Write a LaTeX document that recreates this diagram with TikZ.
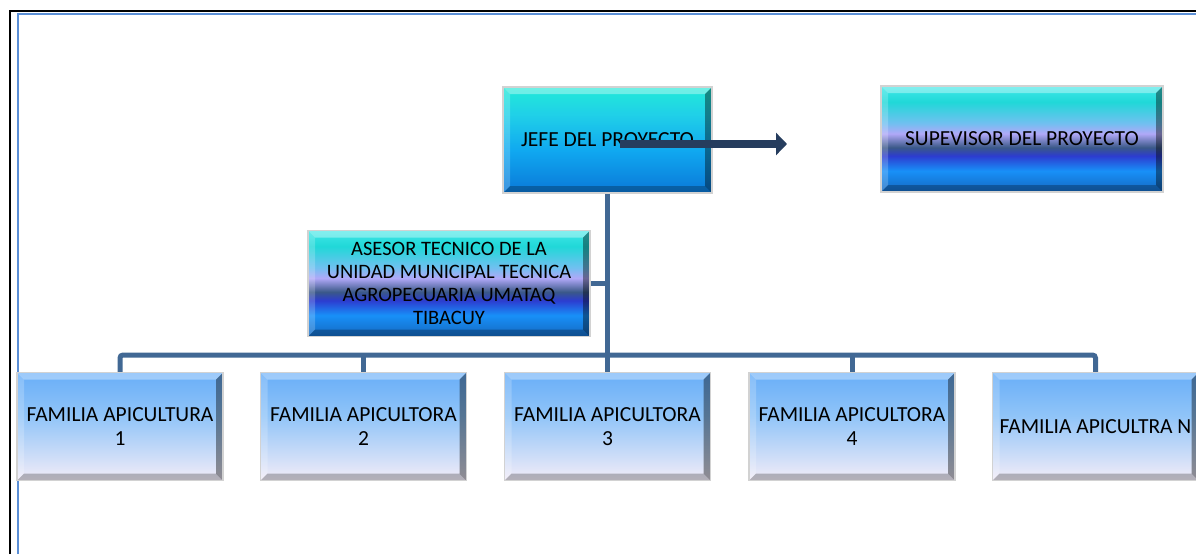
\documentclass[tikz,border=0pt]{standalone}
\usepackage{fontspec}
\setmainfont{Carlito}
\usetikzlibrary{arrows.meta}
\definecolor{lineacol}{HTML}{416894}
\definecolor{flechacol}{HTML}{263D5E}
\definecolor{marcocol}{HTML}{5B8FD6}
% colores del supervisor y asesor
\definecolor{s1}{HTML}{40E8E8}
\definecolor{s2}{HTML}{20D8D8}
\definecolor{s3}{HTML}{70C0F0}
\definecolor{s4}{HTML}{B0A8F8}
\definecolor{s5}{HTML}{3A5888}
\definecolor{s6}{HTML}{2C3CD0}
\definecolor{s7}{HTML}{1890F8}
\definecolor{s8}{HTML}{1468C0}
% colores del jefe
\definecolor{j1}{HTML}{22EAD8}
\definecolor{j2}{HTML}{20D0E8}
\definecolor{j3}{HTML}{10A8F0}
\definecolor{j4}{HTML}{0A78D8}
% colores de las familias
\definecolor{f1}{HTML}{68AEF8}
\definecolor{f2}{HTML}{90C4F8}
\definecolor{f3}{HTML}{F2ECF8}
\pgfdeclareverticalshading{supshade}{100bp}{color(0bp)=(s8); color(25bp)=(s8); color(35bp)=(s7); color(42bp)=(s6); color(46bp)=(s5); color(52.5bp)=(s4); color(57.5bp)=(s3); color(67.5bp)=(s2); color(75bp)=(s1); color(100bp)=(s1)}
\pgfdeclareverticalshading{jefeshade}{100bp}{color(0bp)=(j4); color(25bp)=(j4); color(45bp)=(j3); color(62bp)=(j2); color(75bp)=(j1); color(100bp)=(j1)}
\pgfdeclareverticalshading{famshade}{100bp}{color(0bp)=(f3); color(25bp)=(f3); color(55bp)=(f2); color(75bp)=(f1); color(100bp)=(f1)}
\tikzset{
  bisel/.style={path picture={
      \path (path picture bounding box.south west) coordinate (sw)
            (path picture bounding box.north east) coordinate (ne)
            (sw|-ne) coordinate (nw) (ne|-sw) coordinate (se);
      \fill[white,opacity=.35] (nw) -- (ne) -- ([shift={(-7pt,-7pt)}]ne) -- ([shift={(7pt,-7pt)}]nw) -- cycle;
      \fill[white,opacity=.2] (nw) -- (sw) -- ([shift={(7pt,7pt)}]sw) -- ([shift={(7pt,-7pt)}]nw) -- cycle;
      \fill[black,opacity=.4] (ne) -- (se) -- ([shift={(-7pt,7pt)}]se) -- ([shift={(-7pt,-7pt)}]ne) -- cycle;
      \fill[black,opacity=.25] (sw) -- (se) -- ([shift={(-7pt,7pt)}]se) -- ([shift={(7pt,7pt)}]sw) -- cycle;
    }},
  caja/.style={draw=gray!35, line width=1.5pt, inner sep=0pt, align=center,
    font=\fontsize{21.5}{24}\selectfont, bisel},
  jefebox/.style={caja, shading=jefeshade, minimum width=209pt, minimum height=106pt},
  supbox/.style={caja, shading=supshade, minimum width=282pt, minimum height=106pt},
  fambox/.style={caja, shading=famshade, minimum width=206pt, minimum height=108pt},
  link/.style={lineacol, line width=5pt},
  flecha/.style={flechacol, line width=8pt, -{Triangle[length=11pt,width=22pt]}}
}
\begin{document}
\begin{tikzpicture}[x=1pt,y=-1pt]
  \useasboundingbox (0,0) rectangle (1196,554);
  \clip (0,0) rectangle (1196,554);
  % marco de la pagina
  \draw [black, line width=2pt] (10,554) -- (10,11) -- (1196,11);
  \draw [marcocol, line width=2pt] (18,554) -- (18,13.5) -- (1196,13.5);
  % cajas
  \node [jefebox] (jefe) at (607.5,140) {JEFE DEL PROYECTO};
  \node [supbox] (super) at (1022,139) {SUPEVISOR DEL PROYECTO};
  \node [supbox, font=\fontsize{20.5}{23}\selectfont] (asesor) at (449,283.5) {ASESOR TECNICO DE LA\\UNIDAD MUNICIPAL TECNICA\\AGROPECUARIA UMATAQ\\TIBACUY};
  \foreach \i/\x/\txt in {1/120/{FAMILIA APICULTURA\\1}, 2/363.5/{FAMILIA APICULTORA\\2},
      3/607.5/{FAMILIA APICULTORA\\3}, 4/852/{FAMILIA APICULTORA\\4}, N/1095.5/{FAMILIA APICULTRA N}}
    \node [fambox] (fam\i) at (\x,426.5) {\txt};
  % conectores
  \coordinate (bus) at (607.5,355);
  \draw [link] (jefe.south) -- (bus);
  \draw [link] (asesor.east) -- (asesor.east -| jefe.south);
  \draw [link, rounded corners=3pt] (fam1.north) |- (famN.north |- bus) -- (famN.north);
  \foreach \i in {2,3,4}
    \draw [link] (fam\i.north) -- (fam\i.north |- bus);
  % flecha hacia el supervisor
  \coordinate (flechaini) at (620,144);
  \coordinate (flechafin) at (787,144);
  \draw [flecha] (flechaini) -- (flechafin);
\end{tikzpicture}
\end{document}
